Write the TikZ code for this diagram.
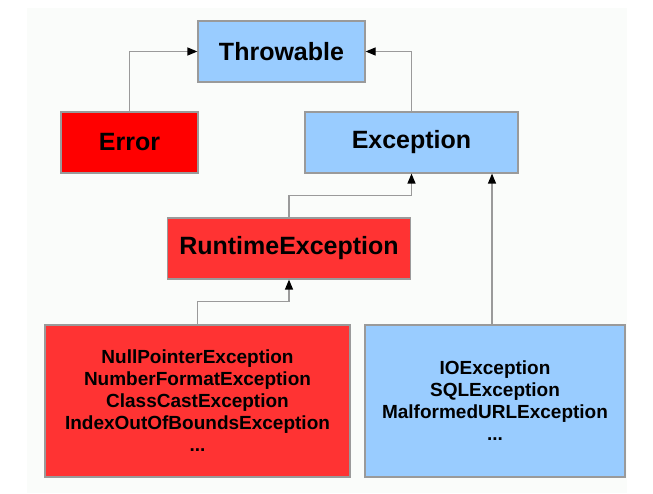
\documentclass[tikz,border=0pt]{standalone}
\usepackage{fontspec}
\setmainfont{Liberation Sans}
\usetikzlibrary{arrows.meta}
\definecolor{skyblue}{HTML}{99CCFF}
\definecolor{errred}{HTML}{FF0000}
\definecolor{rtred}{HTML}{FF3333}
\definecolor{linegray}{HTML}{9A9A9A}
\definecolor{bggray}{HTML}{FAFCFA}
\begin{document}
\begin{tikzpicture}[x=1pt,y=1pt,
    cls/.style={draw=linegray, line width=1.2pt, inner sep=0pt, align=center,
        font=\fontsize{25}{30}\selectfont\bfseries},
    group/.style={cls, font=\fontsize{19}{22}\selectfont\bfseries},
    inherit/.style={draw=linegray, line width=1.2pt, -{Triangle[length=10pt,width=8pt,fill=black,color=black]}}]
    \useasboundingbox (0,0) rectangle (653,-494);
    \fill[bggray] (27,-8) rectangle (627,-493);

    % class boxes
    \node[cls, fill=skyblue, minimum width=167, minimum height=61] (throwable) at (281.5,-51.5) {Throwable};
    \node[cls, fill=errred, minimum width=137, minimum height=61] (error) at (129.5,-142.5) {Error};
    \node[cls, fill=skyblue, minimum width=213, minimum height=61] (exception) at (411.5,-142.5) {Exception};
    \node[cls, fill=rtred, minimum width=243, minimum height=61] (runtime) at (289,-248.5) {RuntimeException};
    \node[group, fill=rtred, minimum width=305, minimum height=152] (unchecked) at (197.5,-401)
        {NullPointerException\\NumberFormatException\\ClassCastException\\IndexOutOfBoundsException\\...};
    \node[group, fill=skyblue, minimum width=260, minimum height=152] (checked) at (495,-401)
        {IOException\\SQLException\\MalformedURLException\\...};

    % inheritance arrows
    \draw[inherit] (error.north) |- (throwable.west);
    \draw[inherit] (exception.north) |- (throwable.east);
    \draw[inherit] (runtime.north) -- ++(0,22) -| (exception.south);
    \draw[inherit] (unchecked.north) -- ++(0,23) -| (runtime.south);
    \draw[inherit] ([xshift=-3]checked.north) -- ([xshift=-3]checked.north |- exception.south);
\end{tikzpicture}
\end{document}
